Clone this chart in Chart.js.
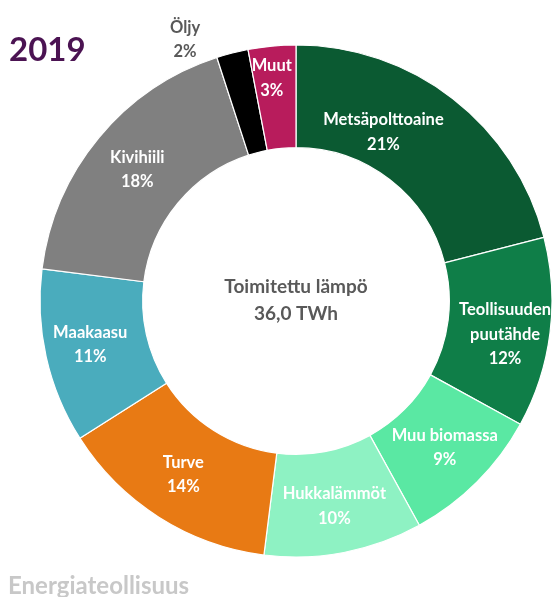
<!DOCTYPE html>
<html>
<head>
<meta charset="utf-8">
<script src="https://cdn.jsdelivr.net/npm/chart.js@4"></script>
<style>
  html, body { margin: 0; padding: 0; background: #fff; }
  #wrap { position: relative; width: 553px; height: 597px; }
</style>
</head>
<body>
<div id="wrap"><canvas id="heatChart" width="553" height="597"></canvas></div>
<script>
// data, clockwise from 12 o'clock
const categories = ['Metsäpolttoaine', 'Teollisuuden puutähde', 'Muu biomassa', 'Hukkalämmöt',
                    'Turve', 'Maakaasu', 'Kivihiili', 'Öljy', 'Muut'];
const shares = [21, 12, 9, 10, 14, 11, 18, 2, 3];   // % of delivered heat
const labelLines = [['Metsäpolttoaine'], ['Teollisuuden', 'puutähde'], ['Muu biomassa'], ['Hukkalämmöt'],
                    ['Turve'], ['Maakaasu'], ['Kivihiili'], ['Öljy'], ['Muut']];
const colors = ['#0b5a32', '#0f7e48', '#5ae8a3', '#8ef2c3', '#e87a14', '#4aacbd', '#808080', '#000000', '#b81c5c'];
const totalText = ['Toimitettu lämpö', '36,0 TWh'];
const yearText = '2019';

// little tweaks so the labels sit where the original put them
const labelNudge = [[-38, -7], [6, 8], [4, 2], [0, 4], [-3, 1], [-6, -1], [-1, -1], [-60, -63], [-5, -19]];
const labelColor = ['#fff', '#fff', '#fff', '#fff', '#fff', '#fff', '#fff', '#595959', '#fff'];

const sliceLabels = {
  id: 'sliceLabels',
  afterDatasetsDraw(chart) {
    const ctx = chart.ctx;
    const meta = chart.getDatasetMeta(0);
    ctx.save();
    ctx.textAlign = 'center';
    ctx.textBaseline = 'middle';
    ctx.font = 'bold 16.5px Lato';
    meta.data.forEach((arc, i) => {
      const p = arc.getProps(['x', 'y', 'startAngle', 'endAngle', 'innerRadius', 'outerRadius'], true);
      const mid = (p.startAngle + p.endAngle) / 2;
      const r = (p.innerRadius + p.outerRadius) / 2;
      const cx = p.x + Math.cos(mid) * r + labelNudge[i][0];
      const cy = p.y + Math.sin(mid) * r + labelNudge[i][1];
      const lines = labelLines[i].concat([shares[i] + '%']);
      const lh = 24.5;
      const y0 = cy - (lines.length - 1) * lh / 2;
      ctx.fillStyle = labelColor[i];
      lines.forEach((t, k) => ctx.fillText(t, cx, y0 + k * lh));
    });

    // centre text
    const a = meta.data[0];
    ctx.fillStyle = '#595959';
    ctx.font = 'bold 19px Lato';
    ctx.fillText(totalText[0], a.x, a.y - 14);
    ctx.fillText(totalText[1], a.x, a.y + 13);

    // year + source
    ctx.textAlign = 'left';
    ctx.fillStyle = '#4b1352';
    ctx.font = 'bold 33px Lato';
    ctx.fillText(yearText, 9, 50);
    ctx.fillStyle = '#c8c8c8';
    ctx.font = 'bold 24px Lato';
    ctx.textBaseline = 'alphabetic';
    ctx.fillText('Energiateollisuus', 8, 594);
    ctx.restore();
  }
};

new Chart(document.getElementById('heatChart'), {
  type: 'doughnut',
  data: {
    labels: categories,
    datasets: [{
      data: shares,
      backgroundColor: colors,
      borderColor: '#ffffff',
      borderWidth: 1.2,
      hoverOffset: 0
    }]
  },
  options: {
    responsive: false,
    animation: false,
    radius: 256,
    cutout: 153,
    layout: { padding: { left: 40, right: 1, top: 45, bottom: 40 } },
    plugins: {
      legend: { display: false },
      tooltip: { enabled: false }
    }
  },
  plugins: [sliceLabels]
});
</script>
</body>
</html>
